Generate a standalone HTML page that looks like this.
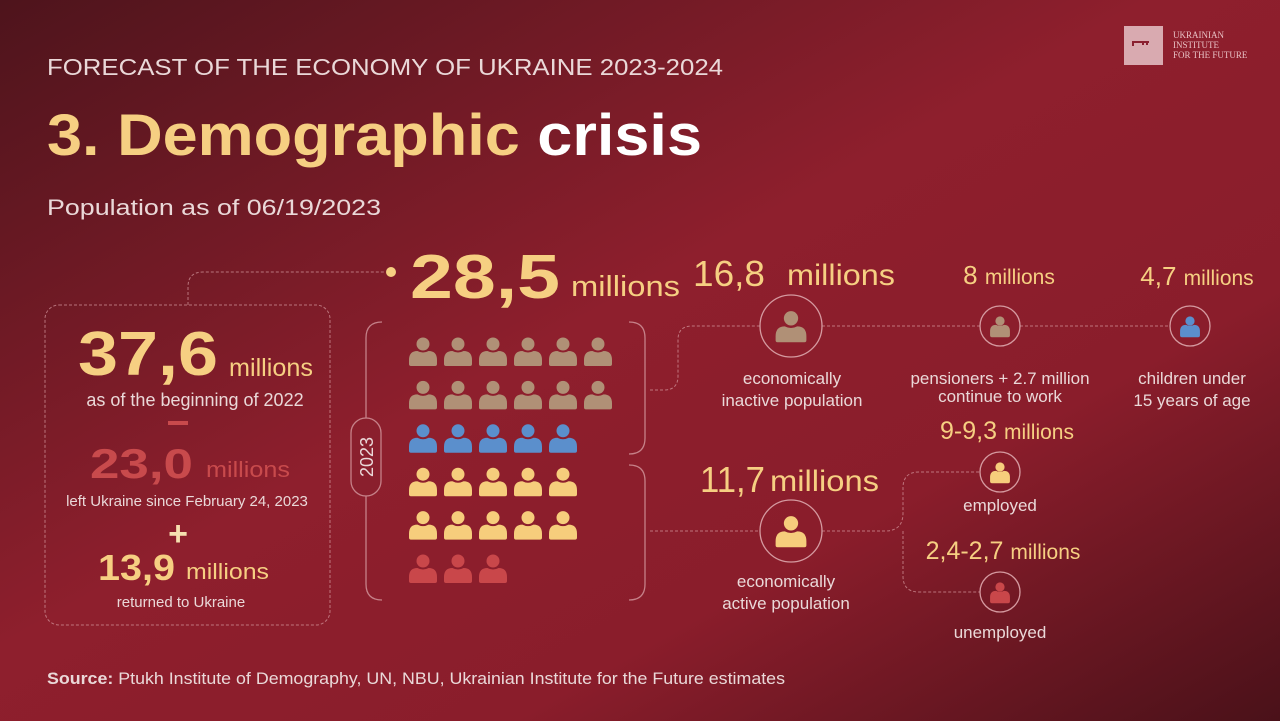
<!DOCTYPE html>
<html><head><meta charset="utf-8"><style>
html,body{margin:0;padding:0;width:1280px;height:721px;overflow:hidden;background:#7a1a26}
svg{display:block;font-family:"Liberation Sans",sans-serif}
</style></head><body>
<svg id="chart" width="1280" height="721" viewBox="0 0 1280 721" xmlns="http://www.w3.org/2000/svg">
<defs>
<linearGradient id="bg" x1="0" y1="0" x2="1" y2="1">
<stop offset="0" stop-color="#4e141c"/><stop offset="0.45" stop-color="#8e1f2d"/><stop offset="0.7" stop-color="#8a1d2b"/><stop offset="1" stop-color="#4a1119"/>
</linearGradient>
</defs>
<rect width="1280" height="721" fill="url(#bg)"/>
<g>
<rect x="1124" y="26" width="39" height="39" fill="#d9aab0"/>
<path d="M1133 46 v-4 h16 M1143 42 v3 M1147 42 v3" stroke="#8a2030" stroke-width="2" fill="none"/>
<text x="1173" y="38" font-size="9" fill="#e8c0c4" font-family="Liberation Serif, serif">UKRAINIAN</text>
<text x="1173" y="48" font-size="9" fill="#e8c0c4" font-family="Liberation Serif, serif">INSTITUTE</text>
<text x="1173" y="58" font-size="9" fill="#e8c0c4" font-family="Liberation Serif, serif">FOR THE FUTURE</text>
</g>
<text x="47" y="75" font-size="23" fill="#ead8d8" textLength="676" lengthAdjust="spacingAndGlyphs">FORECAST OF THE ECONOMY OF UKRAINE 2023-2024</text>
<text x="47" y="155" font-size="58" font-weight="bold" textLength="655" lengthAdjust="spacingAndGlyphs"><tspan fill="#f6cf82">3. Demographic </tspan><tspan fill="#ffffff">crisis</tspan></text>
<text x="47" y="215" font-size="22" fill="#ead8d8" textLength="334" lengthAdjust="spacingAndGlyphs">Population as of 06/19/2023</text>

<g fill="none" stroke="#d59aa0" stroke-width="1" stroke-dasharray="3,2" opacity="0.7">
<rect x="45" y="305" width="285" height="320" rx="14"/>
<path d="M188 305 v-18 q0 -15 15 -15 H385"/>
<path d="M650 390 h14 q14 0 14 -14 v-36 q0 -14 14 -14 H760 M822 326 H980 M1020 326 H1170"/>
<path d="M650 531 H760 M822 531 H885 q18 0 18 -18 v-25 q0 -16 16 -16 H980 M903 531 v45 q0 16 16 16 H980"/>
</g>
<circle cx="391" cy="272" r="5" fill="#f6cf82"/>
<g fill="none" stroke="#d59aa0" stroke-width="1.3" opacity="0.8">
<path d="M382 322 q-16 0 -16 16 v246 q0 16 16 16"/>
<path d="M629 322 q16 0 16 16 v100 q0 16 -16 16"/>
<path d="M629 465 q16 0 16 16 v103 q0 16 -16 16"/>
<rect x="351" y="418" width="30" height="78" rx="15" fill="#8a1f2d"/>
</g>
<text transform="translate(373,457) rotate(-90)" text-anchor="middle" font-size="18" fill="#ead8d8">2023</text>

<g>
<text x="78" y="375" font-size="62" font-weight="bold" fill="#f6cf82" textLength="140" lengthAdjust="spacingAndGlyphs">37,6</text>
<text x="229" y="376" font-size="25" fill="#f6cf82" textLength="84" lengthAdjust="spacingAndGlyphs">millions</text>
<text x="195" y="406" text-anchor="middle" font-size="18" fill="#ead8d8">as of the beginning of 2022</text>
<rect x="168" y="421" width="20" height="4" fill="#c84a4c"/>
<text x="90" y="478" font-size="42" font-weight="bold" fill="#c84a4c" textLength="103" lengthAdjust="spacingAndGlyphs">23,0</text>
<text x="206" y="477" font-size="22" fill="#c84a4c" textLength="84" lengthAdjust="spacingAndGlyphs">millions</text>
<text x="187" y="506" text-anchor="middle" font-size="15" fill="#ead8d8">left Ukraine since February 24, 2023</text>
<text x="178" y="545" text-anchor="middle" font-size="34" font-weight="bold" fill="#f6e0b0">+</text>
<text x="98" y="580" font-size="36" font-weight="bold" fill="#f6cf82" textLength="77" lengthAdjust="spacingAndGlyphs">13,9</text>
<text x="186" y="579" font-size="22" fill="#f6cf82" textLength="83" lengthAdjust="spacingAndGlyphs">millions</text>
<text x="181" y="607" text-anchor="middle" font-size="15" fill="#ead8d8">returned to Ukraine</text>
</g>

<text x="410" y="298" font-size="62" font-weight="bold" fill="#f6cf82" textLength="150" lengthAdjust="spacingAndGlyphs">28,5</text>
<text x="571" y="296" font-size="29" fill="#f6cf82" textLength="109" lengthAdjust="spacingAndGlyphs">millions</text>

<g id="grid"></g>

<g font-size="17" fill="#ead8d8" text-anchor="middle">
<text x="693" y="286" text-anchor="start" font-size="36" fill="#f6cf82" textLength="72" lengthAdjust="spacingAndGlyphs">16,8</text>
<text x="787" y="285" text-anchor="start" font-size="30" fill="#f6cf82" textLength="108" lengthAdjust="spacingAndGlyphs">millions</text>
<text x="1009" y="284" font-size="26" fill="#f6cf82">8 <tspan font-size="21">millions</tspan></text>
<text x="1197" y="285" font-size="26" fill="#f6cf82">4,7 <tspan font-size="21">millions</tspan></text>
<text x="792" y="384">economically</text><text x="792" y="406">inactive population</text>
<text x="1000" y="384">pensioners + 2.7 million</text><text x="1000" y="402">continue to work</text>
<text x="1192" y="384">children under</text><text x="1192" y="406">15 years of age</text>
<text x="1007" y="439" font-size="25" fill="#f6cf82">9-9,3 <tspan font-size="21">millions</tspan></text>
<text x="700" y="492" text-anchor="start" font-size="36" fill="#f6cf82" textLength="65" lengthAdjust="spacingAndGlyphs">11,7</text>
<text x="770" y="491" text-anchor="start" font-size="30" fill="#f6cf82" textLength="109" lengthAdjust="spacingAndGlyphs">millions</text>
<text x="1000" y="511">employed</text>
<text x="1003" y="559" font-size="25" fill="#f6cf82">2,4-2,7 <tspan font-size="21">millions</tspan></text>
<text x="786" y="587">economically</text><text x="786" y="609">active population</text>
<text x="1000" y="638">unemployed</text>
</g>
<g id="circles"></g>

<text x="47" y="684" font-size="16.5" fill="#ead8d8" textLength="738" lengthAdjust="spacingAndGlyphs"><tspan font-weight="bold">Source:</tspan> Ptukh Institute of Demography, UN, NBU, Ukrainian Institute for the Future estimates</text>
</svg>
<script>
const rowCounts = [6, 6, 5, 5, 5, 3];
const rowColors = ["#b09076", "#b09076", "#5b8fcc", "#f6cd7c", "#f6cd7c", "#c9474a"];
const NS = "http://www.w3.org/2000/svg";
function colX(i){return 423 + i*35;}
function rowY(j){return 350 + j*43.4;}
function person(g, cx, cy, s, color){
  const c = document.createElementNS(NS,'circle');
  c.setAttribute('cx',cx); c.setAttribute('cy',cy-6*s); c.setAttribute('r',6.5*s); c.setAttribute('fill',color);
  g.appendChild(c);
  const p = document.createElementNS(NS,'path');
  const w=14*s, bot=cy+14*s;
  p.setAttribute('d',`M${cx-w} ${bot} v-4 q0 -${9*s} ${w*0.6} -${9*s} q${w*0.4} ${3*s} ${w*0.8} 0 q${w*0.6} 0 ${w*0.6} ${9*s} v4 q0 2 -2 2 h-${2*w-4} q-2 0 -2 -2z`);
  p.setAttribute('fill',color);
  g.appendChild(p);
}
const grid = document.getElementById('grid');
rowCounts.forEach((n,j)=>{
  for(let i=0;i<n;i++){
    const g=document.createElementNS(NS,'g');
    
    
    person(g,colX(i),rowY(j),1,rowColors[j]);
    grid.appendChild(g);
  }
});
const circ=document.getElementById('circles');
const circleDefs=[[791,326,31,"#b09076"],[1000,326,20,"#b09076"],[1190,326,20,"#5b8fcc"],[791,531,31,"#f6cd7c"],[1000,472,20,"#f6cd7c"],[1000,592,20,"#c9474a"]];
circleDefs.forEach(d=>{
  const g=document.createElementNS(NS,'g');
  
  
  const c=document.createElementNS(NS,'circle');
  c.setAttribute('cx',d[0]);c.setAttribute('cy',d[1]);c.setAttribute('r',d[2]);
  c.setAttribute('fill','none');c.setAttribute('stroke','#d59aa0');c.setAttribute('stroke-width','1.3');
  g.appendChild(c);
  const s=d[2]/31*1.1;
  person(g,d[0],d[1]-1*s,s,d[3]);
  circ.appendChild(g);
});
</script>
</body></html>
